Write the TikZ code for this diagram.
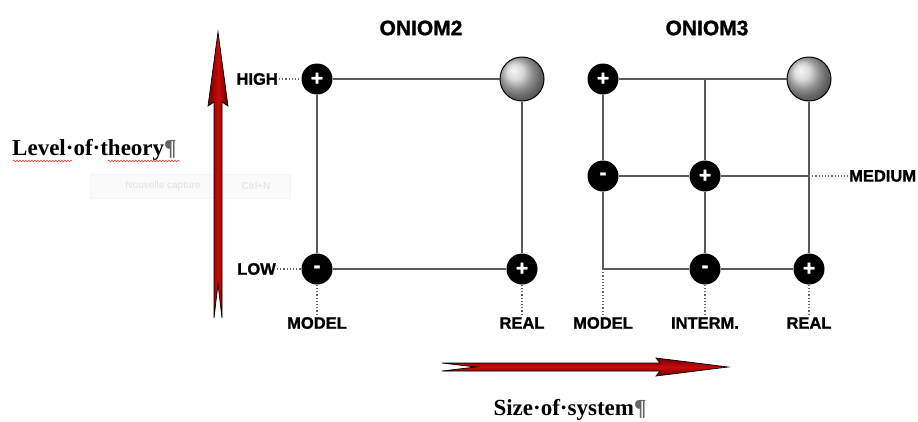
\documentclass[tikz,border=0pt]{standalone}
\usepackage{fontspec}
\setmainfont{Liberation Serif}
\newfontfamily\arialf{Liberation Sans}[BoldFeatures={FakeBold=1.2}]
\usetikzlibrary{decorations.pathmorphing}
\definecolor{arrred}{RGB}{200,10,10}
\definecolor{arrdark}{RGB}{110,0,0}
\begin{document}
\begin{tikzpicture}[x=1pt,y=-1pt,
  gridline/.style={draw=black!65, line width=1.5pt},
  dots/.style={dotted, line width=1.2pt, black!60},
  pm/.style={circle, fill=black, minimum size=31pt, inner sep=0pt, text=white, font=\arialf\bfseries\fontsize{21}{21}\selectfont},
  sph/.style={circle, minimum size=44pt, inner sep=0pt, draw=black, line width=1pt, shading=ball, ball color=black!20},
  lab/.style={font=\arialf\bfseries\fontsize{16.5}{16.5}\selectfont, inner sep=1pt},
  ttl/.style={font=\arialf\bfseries\fontsize{21}{21}\selectfont},
  big/.style={font=\bfseries\fontsize{23}{23}\selectfont, inner sep=0pt},
  ghost/.style={font=\arialf\fontsize{10}{10}\selectfont, text=black!12},
  wavy/.style={draw=red!80, line width=0.6pt, decorate, decoration={snake, amplitude=0.8pt, segment length=3pt}}]
\useasboundingbox (0,0) rectangle (918,421);

% faint ghost tooltip
\draw[black!4, fill=black!2] (90,174) rectangle (290,198);
\node[ghost] (g1) at (163,186) {Nouvelle capture};
\node[ghost] (g2) at (256,186) {Ctrl+N};

% Vertical arrow
\shade[left color=arrdark, right color=arrdark, middle color=arrred, draw=black, line width=0.7pt]
  (218,32) -- (228,106) -- (222,102) -- (222,318) -- (218,284) -- (214,318) -- (214,102) -- (208,106) -- cycle;
% Horizontal arrow
\shade[top color=arrdark, bottom color=arrdark, middle color=arrred, draw=black, line width=0.7pt]
  (728,367) -- (656,376) -- (660,371) -- (442,371) -- (476,367) -- (442,363) -- (660,363) -- (656,358) -- cycle;

% axis labels
\node[big, anchor=west] (lot) at (12,150) {Level\textperiodcentered of\textperiodcentered theory{\color{black!60}¶}};
\draw[wavy] (13,161) -- (72,161);
\draw[wavy] (108,161) -- (180,161);
\node[big] (sos) at (570,410) {Size\textperiodcentered of\textperiodcentered system{\color{black!60}¶}};

% ONIOM2
\node[ttl] (t2) at (421,28) {ONIOM2};
\node[pm] (a1) at (317,79) {+};
\node[sph] (a2) at (522,79) {};
\node[pm] (a3) at (317,269) {-};
\node[pm] (a4) at (522,269) {+};
\draw[gridline] (a1) -- (a2);
\draw[gridline] (a1) -- (a3);
\draw[gridline] (a3) -- (a4);
\draw[gridline] (a2) -- (a4);
\node[lab, anchor=east] (high) at (279,79) {HIGH};
\node[lab, anchor=east] (low) at (277,269) {LOW};
\node[lab] (m2) at (317,323) {MODEL};
\node[lab] (r2) at (522,323) {REAL};
\draw[dots] (high) -- (a1);
\draw[dots] (low) -- (a3);
\draw[dots] (a3) -- (m2);
\draw[dots] (a4) -- (r2);

% ONIOM3
\node[ttl] (t3) at (707,28) {ONIOM3};
\node[pm] (b1) at (603,79) {+};
\node[sph] (b2) at (809,79) {};
\node[pm] (b3) at (603,176) {-};
\node[pm] (b4) at (705,176) {+};
\node[pm] (b5) at (705,269) {-};
\node[pm] (b6) at (809,269) {+};
\coordinate (bt) at (705,79);
\coordinate (bm) at (809,176);
\coordinate (bc) at (603,269);
\draw[gridline] (b1) -- (b2);
\draw[gridline] (b1) -- (b3);
\draw[gridline] (b3) -- (bc) -- (b5);
\draw[gridline] (b5) -- (b6);
\draw[gridline] (b3) -- (b4);
\draw[gridline] (b4) -- (bm);
\draw[gridline] (bt) -- (b4);
\draw[gridline] (b4) -- (b5);
\draw[gridline] (b2) -- (b6);
\node[lab, anchor=west] (med) at (848,176) {MEDIUM};
\node[lab] (m3) at (603,323) {MODEL};
\node[lab] (i3) at (705,323) {INTERM.};
\node[lab] (r3) at (809,323) {REAL};
\draw[dots] (bm) -- (med);
\draw[dots] (bc) -- (m3);
\draw[dots] (b5) -- (i3);
\draw[dots] (b6) -- (r3);
\end{tikzpicture}
\end{document}
